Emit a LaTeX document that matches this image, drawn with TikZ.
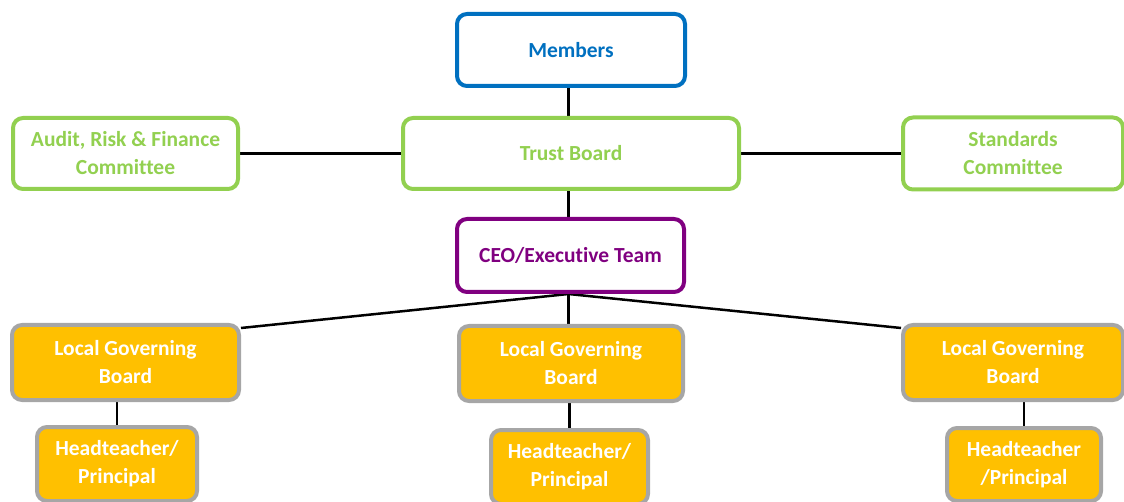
\documentclass[tikz,border=0pt]{standalone}
\usepackage{fontspec}
\setmainfont{Carlito}[Ligatures=NoCommon]
\usetikzlibrary{positioning}
\usetikzlibrary{backgrounds}
\definecolor{memberblue}{HTML}{0070C0}
\definecolor{boardgreen}{HTML}{92D050}
\definecolor{execpurple}{HTML}{800080}
\definecolor{localamber}{HTML}{FFC000}
\definecolor{localgrey}{HTML}{A6A6A6}
\tikzset {
  org node/.style = {
    rectangle,
    rounded corners = 10pt,
    line width = 4pt,
    align = center,
    inner sep = 0pt,
    font = \fontsize{21.5}{28}\selectfont\bfseries
  },
  % top level
  member/.style = {
    org node,
    draw = memberblue,
    fill = white,
    text = memberblue
  },
  % board and committees
  board/.style = {
    org node,
    draw = boardgreen,
    fill = white,
    text = boardgreen
  },
  % executive
  exec/.style = {
    org node,
    draw = execpurple,
    fill = white,
    text = execpurple
  },
  % local level
  local/.style = {
    org node,
    draw = localgrey,
    fill = localamber,
    text = white
  },
  link/.style = {
    draw = black,
    line width = 2.1pt
  },
  fan link/.style = {
    link,
    line width = 2.5pt
  }
}

\begin{document}
\begin{tikzpicture}[x=1pt, y=1pt]
    \useasboundingbox (0,0) rectangle (1124,-502);
    \clip (0,0) rectangle (1124,-502);

    \node[member, minimum width=228pt, minimum height=72pt] (members) at (571,-50) {Members};
    \node[board, minimum width=336pt, minimum height=71pt] (trust) at (571,-153.5) {Trust Board};
    \node[board, minimum width=225pt, minimum height=71pt] (audit) at (125.5,-153.5) {Audit, Risk \& Finance\\Committee};
    \node[board, minimum width=220pt, minimum height=72pt] (standards) at (1013,-153.5) {Standards\\Committee};
    \node[exec, minimum width=227pt, minimum height=73pt] (ceo) at (570.5,-255.5) {CEO/Executive Team};

    \node[local, minimum width=227pt, minimum height=75pt] (lgb-left) at (125.5,-362.5) {Local Governing\\Board};
    \node[local, minimum width=224pt, minimum height=75pt] (lgb-mid) at (571,-363.5) {Local Governing\\Board};
    \node[local, minimum width=220pt, minimum height=75pt] (lgb-right) at (1013,-362.5) {Local Governing\\Board};
    \node[local, minimum width=160pt, minimum height=74pt] (head-left) at (117,-464) {Headteacher/\\Principal};
    \node[local, minimum width=157pt, minimum height=74pt] (head-mid) at (569.5,-467) {Headteacher/\\Principal};
    \node[local, minimum width=154pt, minimum height=73pt] (head-right) at (1024,-464.5) {Headteacher\\/Principal};

    \coordinate (ceo-fan) at ([xshift=-2pt]ceo.south);

    \begin{scope}[on background layer]
      \draw[link] (ceo-fan |- members.south) -- (ceo-fan |- trust.north);
      \draw[link] (trust.west) -- (audit.east);
      \draw[link] (trust.east) -- (standards.west);
      \draw[link] (ceo-fan |- trust.south) -- (ceo-fan |- ceo.north);
      \draw[link] (ceo-fan) -- (ceo-fan |- lgb-mid.north);
      \draw[fan link] (ceo-fan) -- ([yshift=-5pt]lgb-left.north east);
      \draw[fan link] (ceo-fan) -- ([yshift=-5pt]lgb-right.north west);
      \draw[link] (lgb-left.south -| head-left) -- (head-left.north);
      \draw[link] (lgb-mid.south -| head-mid) -- (head-mid.north);
      \draw[link] (lgb-right.south -| head-right) -- (head-right.north);
    \end{scope}
  \end{tikzpicture}
\end{document}
